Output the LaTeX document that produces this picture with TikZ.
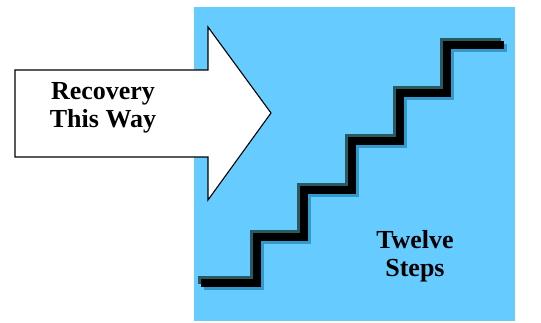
\documentclass[tikz,border=0pt]{standalone}
\usepackage{fontspec}
\setmainfont{Liberation Serif}
\definecolor{skyblue}{RGB}{102,204,255}
\definecolor{darkteal}{RGB}{40,90,95}
\definecolor{midblue}{RGB}{51,153,204}
\tikzset{
    label text/.style={font=\fontsize{26}{28}\selectfont\bfseries, align=center, inner sep=0pt},
    stair/.style={line width=7.5pt, line join=miter, line cap=butt}
}

\begin{document}
\begin{tikzpicture}[x=1pt, y=-1pt]
        \useasboundingbox (0,0) rectangle (541,323);
        \fill[skyblue] (194,7) rectangle (515,321);
        % arrow pointing right
        \draw[fill=white, line width=1.1pt] (15,70) -- (208,70) -- (208,27) -- (271,113)
            -- (208,200) -- (208,157) -- (15,157) -- cycle;
        \node[label text] (recovery) at (103,108) {Recovery\\This Way};
        % the stairs, with a shadow
        \draw[stair, midblue] (204,286) -- (260,286) -- (260,240) -- (307,240) -- (307,193)
            -- (355,193) -- (355,144) -- (403,144) -- (403,96) -- (450,96) -- (450,48) -- (507,48);
        \draw[stair, darkteal] (198,280) -- (254,280) -- (254,234) -- (301,234) -- (301,187)
            -- (349,187) -- (349,138) -- (397,138) -- (397,90) -- (444,90) -- (444,42) -- (501,42);
        \draw[stair, black] (201,283) -- (257,283) -- (257,237) -- (304,237) -- (304,190)
            -- (352,190) -- (352,141) -- (400,141) -- (400,93) -- (447,93) -- (447,45) -- (504,45);
        \node[label text] (steps) at (415,256) {Twelve\\Steps};
    \end{tikzpicture}
\end{document}
